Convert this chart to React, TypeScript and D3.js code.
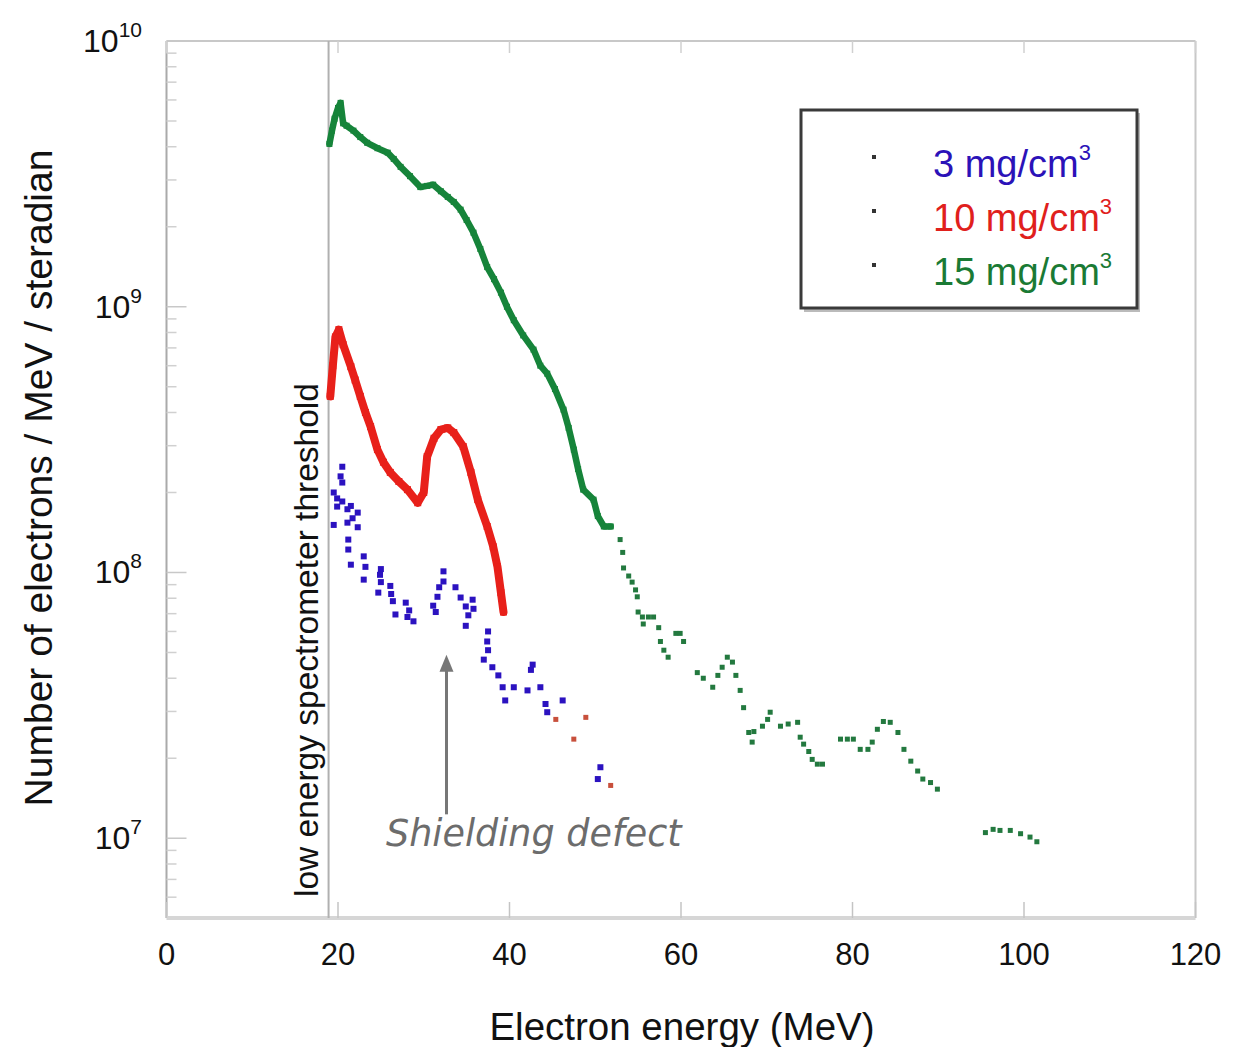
import React from "react";
import * as d3 from "d3";

// ---- data (energy MeV, electrons / MeV / sr) ----
const greenDense: [number, number][] = [
  [19.0, 4.1e9], [19.3, 4.6e9], [19.6, 5.1e9], [20.0, 5.6e9], [20.3, 5.85e9], [20.6, 4.9e9],
  [21.0, 4.8e9], [21.8, 4.6e9], [22.6, 4.35e9], [23.4, 4.14e9], [24.6, 3.95e9], [25.8, 3.8e9],
  [26.5, 3.6e9], [27.3, 3.36e9], [28.4, 3.1e9], [29.6, 2.82e9], [30.4, 2.85e9], [31.1, 2.88e9],
  [32.0, 2.72e9], [32.8, 2.59e9], [33.5, 2.48e9], [34.3, 2.32e9], [35.0, 2.12e9], [35.8, 1.9e9],
  [36.6, 1.65e9], [37.4, 1.41e9], [38.2, 1.27e9], [39.0, 1.13e9], [39.7, 1.0e9], [40.5, 8.9e8],
  [41.6, 7.8e8], [42.8, 6.9e8], [43.6, 6.0e8], [44.4, 5.6e8], [45.3, 4.9e8], [46.3, 4.1e8],
  [46.9, 3.5e8], [47.5, 2.9e8], [48.0, 2.45e8], [48.6, 2.05e8], [49.8, 1.88e8], [50.3, 1.63e8],
  [51.0, 1.49e8], [51.8, 1.49e8],
];
const greenSparse: [number, number][] = [
  [52.9, 1.33e8], [53.2, 1.19e8], [53.3, 1.04e8], [53.9, 9.7e7], [54.3, 9.2e7], [54.7, 8.6e7],
  [54.9, 8.1e7], [55.0, 7.1e7], [55.5, 6.8e7], [56.2, 6.8e7], [56.8, 6.8e7], [55.6, 6.4e7],
  [57.4, 6.2e7], [57.6, 5.5e7], [58.0, 5.1e7], [58.5, 4.8e7], [59.4, 5.9e7], [59.9, 5.9e7],
  [60.3, 5.5e7], [61.9, 4.2e7], [62.6, 4.0e7], [63.7, 3.7e7], [64.3, 4.1e7], [64.8, 4.4e7],
  [65.4, 4.8e7], [66.0, 4.6e7], [66.4, 4.1e7], [66.9, 3.6e7], [67.3, 3.1e7], [67.9, 2.5e7],
  [68.3, 2.3e7], [68.5, 2.52e7], [69.5, 2.64e7], [70.1, 2.8e7], [70.4, 2.98e7], [71.6, 2.64e7],
  [72.5, 2.69e7], [73.6, 2.73e7], [73.9, 2.4e7], [74.3, 2.26e7], [74.9, 2.12e7], [75.3, 1.98e7],
  [75.9, 1.9e7], [76.5, 1.9e7], [78.6, 2.36e7], [79.4, 2.36e7], [80.1, 2.36e7], [80.9, 2.16e7],
  [81.8, 2.16e7], [82.3, 2.3e7], [82.9, 2.57e7], [83.6, 2.75e7], [84.4, 2.73e7], [85.3, 2.5e7],
  [86.0, 2.16e7], [86.8, 1.95e7], [87.6, 1.79e7], [88.2, 1.67e7], [89.1, 1.62e7], [89.9, 1.53e7],
  [95.5, 1.05e7], [96.4, 1.08e7], [97.2, 1.07e7], [98.4, 1.07e7], [99.6, 1.04e7], [100.7, 1.01e7],
  [101.5, 9.7e6],
];
const redDense: [number, number][] = [
  [19.1, 4.6e8], [19.4, 6.0e8], [19.7, 7.7e8], [20.1, 8.2e8], [20.6, 7.2e8], [21.5, 5.95e8],
  [22.0, 5.3e8], [22.6, 4.6e8], [23.2, 4.0e8], [23.8, 3.54e8], [24.6, 2.9e8], [25.3, 2.6e8],
  [26.1, 2.38e8], [27.1, 2.2e8], [28.1, 2.05e8], [29.3, 1.83e8], [30.0, 2.0e8], [30.4, 2.73e8],
  [31.2, 3.2e8], [32.0, 3.45e8], [32.8, 3.5e8], [33.5, 3.36e8], [34.6, 2.98e8], [35.5, 2.38e8],
  [36.3, 1.88e8], [37.4, 1.49e8], [38.1, 1.25e8], [38.6, 1.05e8], [39.0, 8.4e7], [39.3, 7.1e7],
];
const redSparse: [number, number][] = [
  [45.4, 2.8e7], [47.5, 2.36e7], [48.9, 2.85e7], [51.8, 1.58e7],
];
const blueSparse: [number, number][] = [
  [20.5, 2.5e8], [20.5, 2.18e8], [20.3, 2.3e8], [19.5, 2.0e8], [19.9, 1.9e8], [19.9, 1.77e8],
  [20.5, 1.85e8], [21.1, 1.73e8], [21.5, 1.78e8], [22.3, 1.68e8], [19.5, 1.51e8], [21.1, 1.54e8],
  [22.3, 1.48e8], [21.7, 1.6e8], [21.2, 1.33e8], [21.2, 1.22e8], [21.5, 1.07e8], [23.0, 1.15e8],
  [23.2, 1.05e8], [23.0, 9.4e7], [25.0, 1.03e8], [25.0, 9.2e7], [24.7, 8.4e7], [24.9, 9.8e7],
  [26.1, 8.9e7], [26.4, 7.8e7], [26.7, 6.95e7], [26.2, 8.3e7], [27.9, 7.7e7], [28.1, 6.8e7],
  [28.8, 6.55e7], [28.3, 7.2e7], [31.1, 7.5e7], [31.4, 7.1e7], [31.6, 8.1e7], [31.8, 8.8e7],
  [32.3, 1.01e8], [32.3, 9.25e7], [33.7, 8.8e7], [34.3, 8.05e7], [34.9, 7.45e7], [34.9, 6.3e7],
  [35.7, 7.9e7], [35.8, 7.3e7], [35.2, 6.9e7], [37.5, 6.0e7], [37.4, 5.5e7], [37.5, 5.1e7],
  [37.0, 4.7e7], [38.0, 4.4e7], [38.7, 4.1e7], [39.2, 3.7e7], [40.5, 3.7e7], [39.5, 3.3e7],
  [42.1, 3.6e7], [42.5, 4.3e7], [42.7, 4.5e7], [43.6, 3.7e7], [44.2, 3.2e7], [44.4, 2.98e7],
  [46.2, 3.3e7], [50.6, 1.85e7], [50.3, 1.67e7],
];

const X_TICKS = [0, 20, 40, 60, 80, 100, 120];
const Y_DECADES = [7, 8, 9, 10];
const LEGEND = [
  { label: "3 mg/cm", color: "#2b12b8" },
  { label: "10 mg/cm", color: "#e0201c" },
  { label: "15 mg/cm", color: "#1a7a34" },
];
const THRESHOLD_E = 18.9;
const DEFECT_E = 32.65;
const DEFECT_ARROW: [number, number] = [1.23e7, 4.9e7];

const W = 1236;
const H = 1047;
const L = 166.5, R = 1195.5, T = 41, B = 918;

export default function App() {
  const x = d3.scaleLinear().domain([0, 120]).range([L, R]);
  const y = d3.scaleLog().domain([5.01e6, 1e10]).range([B, T]);
  const line = d3
    .line<[number, number]>()
    .x((d) => x(d[0]))
    .y((d) => y(d[1]));

  const minor: number[] = [];
  for (let e = 6; e <= 9; e++) {
    for (let k = 2; k <= 9; k++) {
      const v = k * Math.pow(10, e);
      if (v > 5.01e6 && v < 1e10) minor.push(v);
    }
  }

  const font = "'Liberation Sans', Arial, Helvetica, sans-serif";
  const sq = (pts: [number, number][], color: string, s: number, key: string) =>
    pts.map((d, i) => (
      <rect key={key + i} x={x(d[0]) - s / 2} y={y(d[1]) - s / 2} width={s} height={s} fill={color} />
    ));

  return (
    <svg
      width={W}
      height={H}
      style={{ position: "absolute", left: 0, top: 0, display: "block", background: "#fff" }}
      fontFamily={font}
    >
      <rect x={0} y={0} width={W} height={H} fill="#fff" />
      {/* frame */}
      <line x1={L} x2={R} y1={T} y2={T} stroke="#c8c8c8" strokeWidth={2} />
      <line x1={R} x2={R} y1={T} y2={B} stroke="#c8c8c8" strokeWidth={2} />
      <line x1={L} x2={L} y1={T} y2={B} stroke="#aaa" strokeWidth={2} />
      <line x1={L} x2={R} y1={B} y2={B} stroke="#d6d6d6" strokeWidth={4} />
      {/* minor y ticks */}
      {minor.map((v, i) => (
        <line key={"m" + i} x1={L} x2={L + 10} y1={y(v)} y2={y(v)} stroke="#d0d0d0" strokeWidth={1.5} />
      ))}
      {Y_DECADES.map((e) => (
        <line key={"M" + e} x1={L} x2={L + 20} y1={y(Math.pow(10, e))} y2={y(Math.pow(10, e))} stroke="#c8c8c8" strokeWidth={1.5} />
      ))}
      {/* x ticks */}
      {X_TICKS.map((t) => (
        <g key={"xt" + t}>
          <line x1={x(t)} x2={x(t)} y1={B} y2={B - 16} stroke="#c4c4c4" strokeWidth={1.5} />
          <line x1={x(t)} x2={x(t)} y1={T} y2={T + 12} stroke="#d0d0d0" strokeWidth={1.5} />
          <text x={x(t)} y={965} fontSize={31} textAnchor="middle" fill="#111">
            {t}
          </text>
        </g>
      ))}
      {/* y tick labels */}
      {Y_DECADES.map((e) => (
        <text key={"yl" + e} x={142} y={y(Math.pow(10, e)) + 11} fontSize={32} textAnchor="end" fill="#111">
          10
          <tspan fontSize={21} dy={-15}>
            {e}
          </tspan>
        </text>
      ))}
      {/* threshold line */}
      <line x1={x(THRESHOLD_E)} x2={x(THRESHOLD_E)} y1={T} y2={B} stroke="#b0b0b0" strokeWidth={2} />
      <text
        transform={`translate(318, ${y(5.01e6) - 21}) rotate(-90)`}
        fontSize={33.5}
        fill="#111"
        textAnchor="start"
      >
        low energy spectrometer threshold
      </text>

      {/* series */}
      <path d={line(greenDense) || ""} fill="none" stroke="#16843a" strokeWidth={6.5} strokeLinejoin="round" strokeLinecap="round" />
      {sq(greenDense, "#16843a", 6, "gd")}
      {sq(greenSparse, "#23793f", 5, "gs")}
      <path d={line(redDense) || ""} fill="none" stroke="#e8201a" strokeWidth={8} strokeLinejoin="round" strokeLinecap="round" />
      {sq(redDense, "#e8201a", 7, "rd")}
      {sq(redSparse, "#c8503c", 5, "rs")}
      {sq(blueSparse, "#2b12c0", 6, "bs")}

      {/* shielding defect annotation */}
      <line
        x1={x(DEFECT_E)}
        x2={x(DEFECT_E)}
        y1={y(DEFECT_ARROW[0])}
        y2={y(DEFECT_ARROW[1]) + 14}
        stroke="#777"
        strokeWidth={3}
      />
      <path
        d={`M${x(DEFECT_E)},${y(DEFECT_ARROW[1])} l-7,17 l14,0 z`}
        fill="#777"
      />
      <text x={386} y={846} fontSize={36.5} fontStyle="italic" fill="#6c6c6c" fontFamily="'DejaVu Sans', Verdana, sans-serif">
        Shielding defect
      </text>

      {/* legend */}
      <rect x={804} y={113} width={336} height={199} fill="#bbb" />
      <rect x={801} y={110} width={336} height={198} fill="#fff" stroke="#3a3a3a" strokeWidth={3} />
      {LEGEND.map((l, i) => (
        <g key={"lg" + i}>
          <rect x={872} y={155 + i * 54} width={4} height={4} fill="#333" />
          <text x={933} y={177 + i * 54} fontSize={38} fill={l.color}>
            {l.label}
            <tspan fontSize={22} dy={-17}>
              3
            </tspan>
          </text>
        </g>
      ))}

      {/* axis titles */}
      <text x={682} y={1040} fontSize={38.5} textAnchor="middle" fill="#111">
        Electron energy (MeV)
      </text>
      <text transform="translate(52, 478) rotate(-90)" fontSize={39} textAnchor="middle" fill="#111">
        Number of electrons / MeV / steradian
      </text>
    </svg>
  );
}
